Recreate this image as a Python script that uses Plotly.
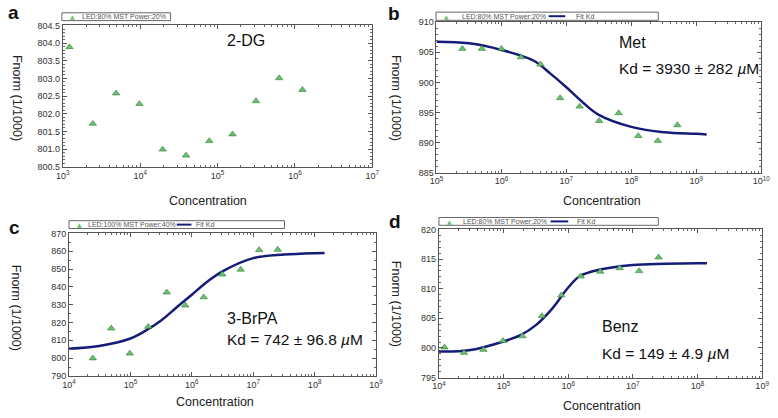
import plotly.graph_objects as go

W, H = 778, 418

# --- data ---
a_conc = [1.22e3, 2.44e3, 4.88e3, 9.77e3, 1.95e4, 3.91e4, 7.81e4, 1.56e5, 3.13e5, 6.25e5, 1.25e6]
a_fnorm = [803.89, 801.72, 802.58, 802.28, 800.99, 800.82, 801.23, 801.42, 802.36, 803.01, 802.68]

b_conc = [2.5e5, 5e5, 1e6, 2e6, 4e6, 8e6, 1.6e7, 3.2e7, 6.4e7, 1.28e8, 2.56e8, 5.12e8]
b_fnorm = [905.6, 905.6, 905.6, 904.2, 903.0, 897.4, 896.0, 893.6, 894.9, 891.1, 890.3, 892.9]
b_fit_conc = [1e5, 3.16e5, 1e6, 3.16e6, 5.62e6, 1e7, 1.78e7, 3.16e7, 1e8, 3.16e8, 1e9, 1.45e9]
b_fit_fnorm = [906.75, 906.5, 905.4, 903.6, 901.5, 899.2, 896.7, 894.6, 892.6, 891.7, 891.45, 891.35]

c_conc = [2.44e4, 4.88e4, 9.77e4, 1.95e5, 3.91e5, 7.81e5, 1.56e6, 3.13e6, 6.25e6, 1.25e7, 2.5e7]
c_fnorm = [799.9, 816.7, 802.6, 817.6, 836.9, 829.6, 834.2, 847.0, 849.7, 860.7, 860.9]
c_fit_conc = [1e4, 3.1e4, 1e5, 2e5, 3.16e5, 5.62e5, 1e6, 1.8e6, 3.16e6, 1e7, 3.2e7, 1e8, 1.45e8]
c_fit_fnorm = [805.3, 806.8, 811.0, 816.5, 821.1, 828.4, 835.6, 843.0, 848.7, 856.1, 858.1, 858.9, 859.0]

d_conc = [1.22e4, 2.44e4, 4.88e4, 9.77e4, 1.95e5, 3.91e5, 7.81e5, 1.56e6, 3.13e6, 6.25e6, 1.25e7, 2.5e7]
d_fnorm = [800.1, 799.2, 799.7, 801.2, 802.0, 805.4, 808.9, 812.1, 812.9, 813.5, 813.0, 815.3]
d_fit_conc = [1e4, 2.9e4, 1e5, 1.86e5, 3.16e5, 5.62e5, 1e6, 1.5e6, 3e6, 1e7, 3.16e7, 1e8, 1.4e8]
d_fit_fnorm = [799.4, 799.6, 801.1, 802.2, 803.85, 806.6, 810.2, 812.1, 813.2, 814.0, 814.2, 814.3, 814.3]

panel_labels = ["a", "b", "c", "d"]
compounds = ["2-DG", "Met", "3-BrPA", "Benz"]
kd_texts = [None, "Kd = 3930 ± 282 <i>µ</i>M", "Kd = 742 ± 96.8 <i>µ</i>M", "Kd = 149 ± 4.9 <i>µ</i>M"]
legend_texts = ["LED:80% MST Power:20%", "LED:80% MST Power:20%", "LED:100% MST Power:40%", "LED:80% MST Power:20%"]


def px(x):
    return x / W


def py(y):
    return 1 - y / H


FONT = "Liberation Sans, Arial, sans-serif"
GREEN = "#6cc070"
GREEN_EDGE = "#2e7d32"
NAVY = "#141c78"


def note(text, x, y, size, xanchor="center", color="#111", **kw):
    return dict(text=text, x=px(x), y=py(y), xref="paper", yref="paper",
                xanchor=xanchor, yanchor="middle", showarrow=False,
                font=dict(size=size, family=kw.pop("family", FONT), color=color), **kw)


fig = go.Figure()

sets = [
    (a_conc, a_fnorm, None, None),
    (b_conc, b_fnorm, b_fit_conc, b_fit_fnorm),
    (c_conc, c_fnorm, c_fit_conc, c_fit_fnorm),
    (d_conc, d_fnorm, d_fit_conc, d_fit_fnorm),
]
for i, (xc, yf, xfit, yfit) in enumerate(sets):
    sfx = "" if i == 0 else str(i + 1)
    if xfit is not None:
        fig.add_trace(go.Scatter(
            x=xfit, y=yfit, mode="lines", line=dict(color=NAVY, width=2.5, shape="spline"),
            xaxis="x" + sfx, yaxis="y" + sfx, showlegend=False, hoverinfo="skip"
        ))
    fig.add_trace(go.Scatter(
        x=xc, y=yf, mode="markers",
        marker=dict(symbol="triangle-up", size=6.5, color=GREEN, line=dict(color=GREEN_EDGE, width=0.6)),
        xaxis="x" + sfx, yaxis="y" + sfx, showlegend=False
    ))

# plot areas in pixels (left, right, top, bottom)
boxes = [(57, 373, 21, 165.7), (438.5, 770, 17.7, 171.7), (63.3, 376.8, 234, 380), (441, 771, 230, 381.7)]
xranges = [(3, 7), (5, 10), (4, 9), (4, 9)]
yranges = [(800.5, 804.5), (885, 910), (790, 870), (795, 820)]
ydticks = [0.5, 5, 10, 5]
yminor = [0.1, 1, 5, 1]
yfmt = [".1f", "d", "d", "d"]

layout = {}
for i in range(4):
    sfx = "" if i == 0 else str(i + 1)
    l, r, t, b = boxes[i]
    lo, hi = xranges[i]
    tv = [10 ** k for k in range(lo, hi + 1)]
    tt = ["10<sup>%d</sup>" % k for k in range(lo, hi + 1)]
    common = dict(showline=True, linecolor="#555", linewidth=1, mirror="ticks",
                  ticks="inside", ticklen=4, tickcolor="#555", showgrid=False, zeroline=False,
                  tickfont=dict(size=9, color="#333", family=FONT))
    layout["xaxis" + sfx] = dict(
        type="log", range=[lo, hi], domain=[px(l), px(r)], anchor="y" + sfx,
        tickvals=tv, ticktext=tt,
        minor=dict(ticks="inside", ticklen=2, tickcolor="#666", dtick="D1", showgrid=False),
        **common
    )
    layout["yaxis" + sfx] = dict(
        range=list(yranges[i]), domain=[py(b), py(t)], anchor="x" + sfx,
        dtick=ydticks[i], tick0=yranges[i][0], tickformat=yfmt[i],
        minor=dict(ticks="inside", ticklen=2, tickcolor="#666", dtick=yminor[i], showgrid=False),
        **common
    )

annotations = []
shapes = []

# panel letters
for lab, (x, y) in zip(panel_labels, [(7, 8), (395, 9), (8, 228), (396, 222)]):
    annotations.append(note("<b>%s</b>" % lab, x, y, 19))

# axis titles
for (cx, cy) in [(205, 201), (608, 201), (212, 407), (607, 411)]:
    annotations.append(note("Concentration", cx, cy, 12.5, color="#222"))
for (cx, cy) in [(10, 95), (397, 95), (10, 310), (398, 306)]:
    annotations.append(note("Fnorm (1/1000)", cx, cy, 12.5, color="#222", textangle=90))

# compound names and Kd values
name_pos = [(223, 36), (623, 38.5), (223, 321), (605, 329)]
kd_pos = [None, (623, 65), (223, 343), (605, 357)]
for i in range(4):
    nx, ny = name_pos[i]
    annotations.append(note(compounds[i], nx, ny, 16, xanchor="left"))
    if kd_texts[i]:
        kx, ky = kd_pos[i]
        annotations.append(note(kd_texts[i], kx, ky, 15.5, xanchor="left"))

# hand-drawn legend boxes: (left, right, top, bottom), text offset, line start/length, "Fit Kd" offset
leg_boxes = [(56, 167, 8, 16), (438, 665, 7.3, 15.7), (63.3, 283.3, 221, 229), (441, 665, 217.7, 225.7)]
leg_text_dx = [19, 25, 17, 23]
leg_line = [None, (115, 17), (110, 15), (114, 18)]
leg_fit_dx = [None, 141, 128, 139]
for i, (l, r, t, b) in enumerate(leg_boxes):
    shapes.append(dict(type="rect", xref="paper", yref="paper", x0=px(l), x1=px(r), y0=py(b), y1=py(t),
                       line=dict(color="#666", width=1), fillcolor="white", layer="below"))
    ym = (t + b) / 2
    annotations.append(note("▲", l + 10.5, ym, 6, color=GREEN, family="DejaVu Sans"))
    annotations.append(note(legend_texts[i], l + leg_text_dx[i], ym, 7, xanchor="left", color="#555"))
    if leg_line[i]:
        lx0, ln = leg_line[i]
        shapes.append(dict(type="line", xref="paper", yref="paper", x0=px(l + lx0), x1=px(l + lx0 + ln),
                           y0=py(ym), y1=py(ym), line=dict(color=NAVY, width=2)))
        annotations.append(note("Fit Kd", l + leg_fit_dx[i], ym, 7, xanchor="left", color="#555"))

fig.update_layout(
    width=W, height=H, margin=dict(l=0, r=0, t=0, b=0),
    paper_bgcolor="white", plot_bgcolor="white",
    font=dict(family=FONT),
    annotations=annotations, shapes=shapes, showlegend=False,
    **layout
)

# page body margin would shift the figure by 8px
fig.write_html("out.html", config={"displayModeBar": False},
               post_script="document.body.style.margin='0';")
